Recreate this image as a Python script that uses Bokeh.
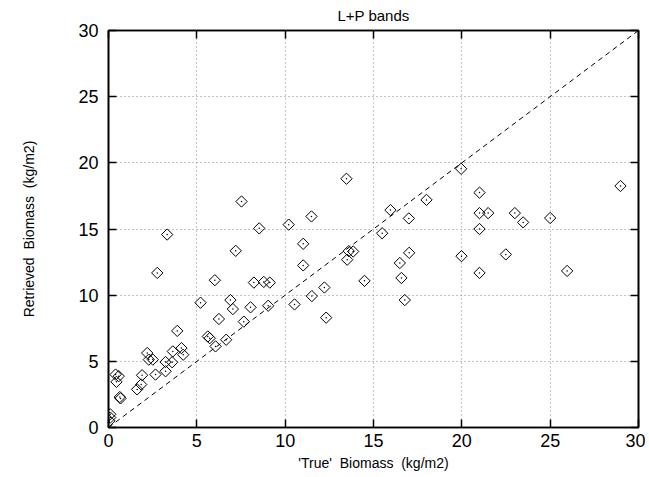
import numpy as np
from bokeh.plotting import figure
from bokeh.models import LinearAxis, Range1d, FixedTicker
from bokeh.embed import file_html
from bokeh.resources import INLINE

true_biomass = [
    0.1, 0.1, 0.05, 0.4, 0.58, 0.45, 0.64, 0.68,
    1.62, 1.85, 1.9, 2.19, 2.28, 2.51, 2.66, 2.76, 3.23, 3.23, 3.32, 3.6,
    3.64, 3.89, 4.13, 4.23, 5.21, 5.62, 5.73, 6.02, 6.06, 6.25, 6.66, 6.9,
    7.04, 7.2, 7.53, 7.66, 8.04, 8.23, 8.53, 8.79, 9.04, 9.13, 10.2, 10.53,
    11.02, 11.02, 11.49, 11.51, 12.22, 12.32, 13.47, 13.51, 13.6, 13.85,
    14.49, 15.49, 15.96, 16.49, 16.58, 16.77, 17.0, 17.02, 18.0, 19.96,
    19.98, 21.0, 21.0, 21.0, 21.0, 21.49, 22.49, 23.0, 23.47, 25.0, 25.96,
    28.98,
]
retrieved_biomass = [
    1.0, 0.75, 0.5, 4.0, 3.88, 3.45, 2.3, 2.2,
    2.88, 3.25, 3.95, 5.63, 5.13, 5.13, 4.0, 11.68, 4.95, 4.25, 14.58, 4.93,
    5.75, 7.3, 6.0, 5.5, 9.43, 6.88, 6.75, 11.13, 6.13, 8.2, 6.63, 9.63,
    8.95, 13.35, 17.08, 8.0, 9.08, 10.95, 15.05, 11.0, 9.2, 10.95, 15.33, 9.3,
    13.88, 12.25, 15.95, 9.93, 10.58, 8.3, 18.8, 12.68, 13.33, 13.3,
    11.08, 14.68, 16.43, 12.43, 11.3, 9.63, 15.8, 13.2, 17.2, 19.55,
    12.95, 17.75, 16.2, 15.0, 11.68, 16.2, 13.08, 16.2, 15.5, 15.83, 11.83,
    18.25,
]
diag = [0, 30]
ticks = [0, 5, 10, 15, 20, 25, 30]

FONT = "Liberation Sans"
NB = "\u00a0\u00a0"

p = figure(width=645, height=473, output_backend="svg", toolbar_location=None,
           x_range=Range1d(0, 30), y_range=Range1d(0, 30),
           x_axis_location=None, y_axis_location=None,
           min_border_left=108, min_border_right=7, min_border_top=30,
           min_border_bottom=43)
p.outline_line_color = "black"
p.outline_line_width = 1.6
p.background_fill_color = "white"
p.border_fill_color = "white"

def mk_axis(show_labels, label=None):
    ax = LinearAxis(ticker=FixedTicker(ticks=ticks))
    ax.major_tick_in = 8
    ax.major_tick_out = 0
    ax.minor_tick_line_color = None
    ax.axis_line_color = "black"
    ax.axis_line_width = 1.6
    ax.major_tick_line_color = "black"
    ax.major_tick_line_width = 1.5
    if show_labels:
        ax.major_label_text_font = FONT
        ax.major_label_text_font_size = "18px"
        ax.major_label_text_color = "black"
    else:
        ax.major_label_text_font_size = "0px"
        ax.major_label_text_color = None
        ax.major_label_standoff = 0
    if label:
        ax.axis_label = label
        ax.axis_label_text_font = FONT
        ax.axis_label_text_font_size = "14px"
        ax.axis_label_text_font_style = "normal"
        ax.axis_label_text_color = "black"
    return ax

xb = mk_axis(True, "'True'" + NB + "Biomass" + NB + "(kg/m2)")
xb.major_label_standoff = 6
xb.axis_label_standoff = 5
yl = mk_axis(True, "Retrieved" + NB + "Biomass" + NB + "(kg/m2)")
yl.major_label_standoff = 10
yl.axis_label_standoff = 38
xt = mk_axis(False, "L+P bands")
xt.axis_label_text_font_size = "15px"
xt.axis_label_standoff = 7
yr = mk_axis(False)
p.add_layout(xb, "below")
p.add_layout(yl, "left")
p.add_layout(xt, "above")
p.add_layout(yr, "right")

p.xgrid.ticker = FixedTicker(ticks=ticks[1:-1])
p.ygrid.ticker = FixedTicker(ticks=ticks[1:-1])
for g in (p.xgrid, p.ygrid):
    g.grid_line_color = "#888888"
    g.grid_line_dash = "1 3"
    g.grid_line_width = 1

p.line(diag, diag, line_color="black", line_dash="5 4", line_width=1)
p.scatter(true_biomass, retrieved_biomass, marker="square", angle=np.pi / 4,
          size=8, fill_color=None, line_color="black", line_width=1)
p.scatter(true_biomass, retrieved_biomass, marker="circle", size=1.5,
          fill_color="black", line_color=None)

open("out.html", "w").write(file_html(p, INLINE))
